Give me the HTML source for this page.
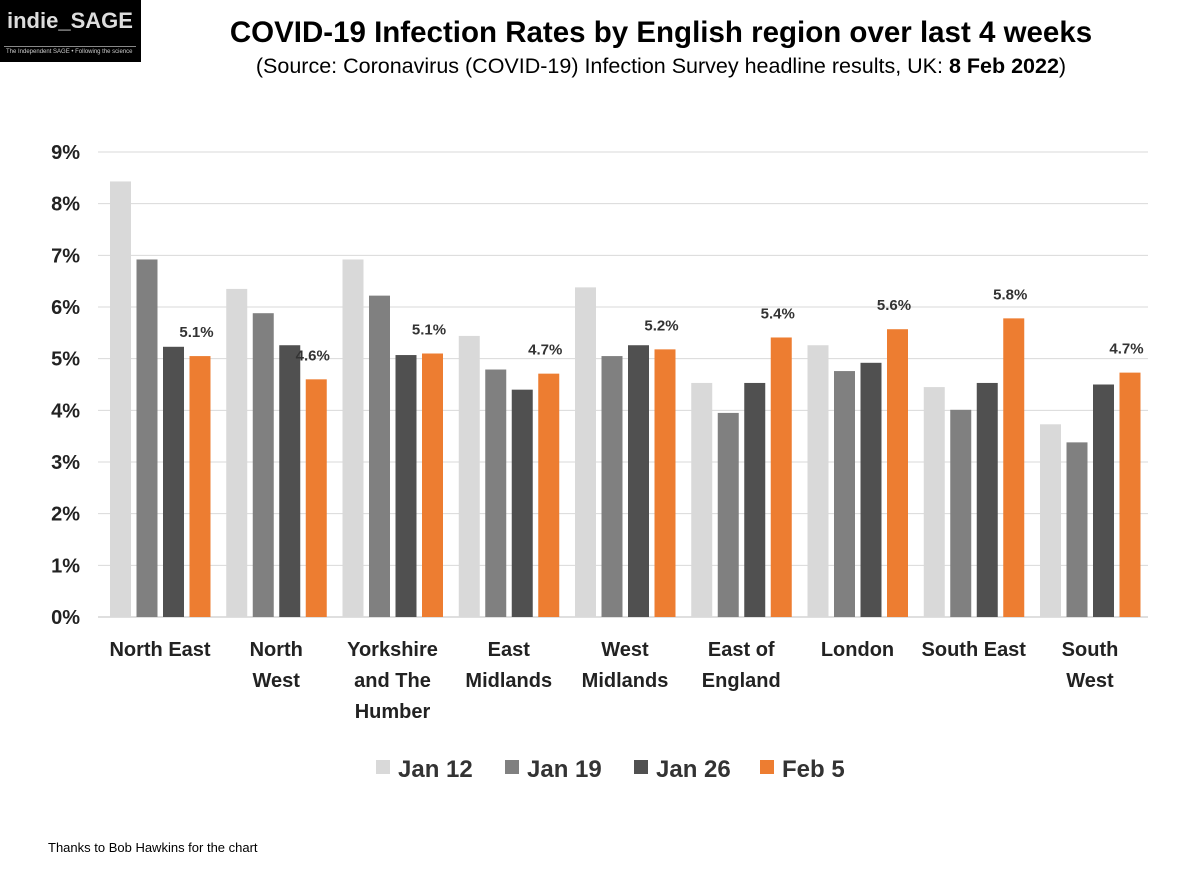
<!DOCTYPE html>
<html><head><meta charset="utf-8"><style>
body{margin:0;width:1200px;height:869px;background:#fff;position:relative;overflow:hidden;font-family:"Liberation Sans",sans-serif}
.abs{position:absolute}
</style></head><body>
<div class="abs" style="left:0;top:0;width:141px;height:62px;background:#000">
 <div class="abs" style="left:7px;top:8px;color:#ddd;font-size:22px;font-weight:bold">indie_SAGE</div>
 <div class="abs" style="left:4px;top:46px;width:132px;border-top:1px solid #888"></div>
 <div class="abs" style="left:6px;top:49px;color:#ccc;font-size:6px;white-space:nowrap">The Independent SAGE • Following the science</div>
</div>
<div class="abs" style="left:161px;top:16px;width:1000px;text-align:center;font-size:29.5px;font-weight:bold;white-space:nowrap">COVID-19 Infection Rates by English region over last 4 weeks</div>
<div class="abs" style="left:161px;top:54px;width:1000px;text-align:center;font-size:21.5px;white-space:nowrap">(Source: Coronavirus (COVID-19) Infection Survey headline results, UK: <b>8 Feb 2022</b>)</div>
<svg class="abs" style="left:0;top:0" width="1200" height="869" id="chart"></svg>
<div class="abs" style="left:48px;top:840px;font-size:13px">Thanks to Bob Hawkins for the chart</div>
<script>
const categories=[["North East"],["North","West"],["Yorkshire","and The","Humber"],["East","Midlands"],["West","Midlands"],["East of","England"],["London"],["South East"],["South","West"]];
const series=["Jan 12","Jan 19","Jan 26","Feb 5"];
const jan12=[8.43,6.35,6.92,5.44,6.38,4.53,5.26,4.45,3.73];
const jan19=[6.92,5.88,6.22,4.79,5.05,3.95,4.76,4.01,3.38];
const jan26=[5.23,5.26,5.07,4.40,5.26,4.53,4.92,4.53,4.50];
const feb5=[5.05,4.60,5.10,4.71,5.18,5.41,5.57,5.78,4.73];
const feb5Labels=["5.1%","4.6%","5.1%","4.7%","5.2%","5.4%","5.6%","5.8%","4.7%"];
const yTicks=[0,1,2,3,4,5,6,7,8,9];
const colors=["#d9d9d9","#808080","#505050","#ed7d31"];
const NS="http://www.w3.org/2000/svg";
const svg=document.getElementById('chart');
const x0=98,x1=1148,y0=617,yTop=152;
const y=v=>y0-(v/9)*(y0-yTop);
const bw=116.25;
function mk(t,a){const e=document.createElementNS(NS,t);for(const k in a)e.setAttribute(k,a[k]);svg.appendChild(e);return e;}
yTicks.forEach(t=>{
 const l=mk('line',{x1:x0,x2:x1,y1:y(t),y2:y(t),stroke:t?'#d9d9d9':'#bfbfbf','stroke-width':1});
 
 
 const tx=mk('text',{x:80,y:y(t)+7,'text-anchor':'end','font-size':20,'font-weight':'bold',fill:'#222'});
 tx.textContent=t+'%';
 
 
});
const data=[jan12,jan19,jan26,feb5];
categories.forEach((c,i)=>{
 const cx=162+bw*i;
 data.forEach((s,j)=>{
  const bx=cx-52+j*26.5;
  const r=mk('rect',{x:bx,y:y(s[i]),width:21,height:y0-y(s[i]),fill:colors[j]});
  
  
 });
 const lb=mk('text',{x:cx-52+3*26.5+7,y:y(feb5[i])-19,'text-anchor':'middle','font-size':15,'font-weight':'bold',fill:'#333'});
 lb.textContent=feb5Labels[i];
 
 
 c.forEach((line,k)=>{
  const t=mk('text',{x:cx-2,y:656+k*31,'text-anchor':'middle','font-size':20,'font-weight':'bold',fill:'#222'});
  t.textContent=line;
  
  
 });
});
const lx=[376,505,634,760];
series.forEach((s,j)=>{
 const r=mk('rect',{x:lx[j],y:760,width:14,height:14,fill:colors[j]});
 
 
 const t=mk('text',{x:lx[j]+22,y:777,'font-size':24,'font-weight':'bold',fill:'#333'});
 t.textContent=s;
 
 
});
</script>
</body></html>
